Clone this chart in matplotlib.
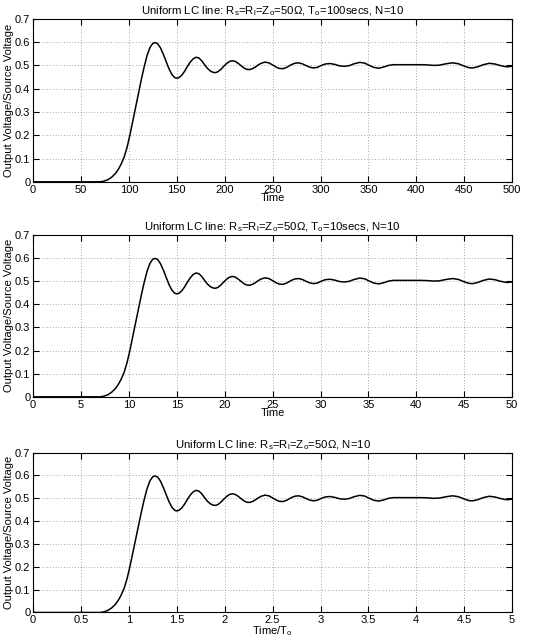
import matplotlib
matplotlib.use("Agg")
from matplotlib import pyplot as plt
from matplotlib.ticker import FormatStrFormatter, MultipleLocator

plt.rcParams['font.family'] = ['Liberation Sans', 'DejaVu Sans']
plt.rcParams['mathtext.fontset'] = 'custom'
plt.rcParams['mathtext.rm'] = 'Liberation Sans'

# normalised time (t / To) and output/source voltage
t_norm = [0.00, 0.50, 0.70, 0.74, 0.78, 0.82, 0.86, 0.89, 0.92, 0.95, 0.98,
          1.01, 1.04, 1.07, 1.10, 1.13, 1.16, 1.19, 1.22, 1.25, 1.275, 1.30,
          1.33, 1.36, 1.39, 1.42, 1.45, 1.48, 1.50, 1.52, 1.55, 1.58, 1.61,
          1.64, 1.67, 1.70, 1.73, 1.76, 1.79, 1.82, 1.85, 1.88, 1.905, 1.93,
          1.96, 1.99, 2.02, 2.05, 2.08, 2.11, 2.14, 2.17, 2.20, 2.23, 2.26,
          2.29, 2.32, 2.35, 2.38, 2.42, 2.46, 2.50, 2.54, 2.57, 2.61, 2.65,
          2.69, 2.73, 2.77, 2.81, 2.85, 2.89, 2.93, 2.97, 3.01, 3.05, 3.10,
          3.15, 3.20, 3.25, 3.30, 3.35, 3.41, 3.46, 3.51, 3.56, 3.61, 3.66,
          3.71, 3.76, 3.85, 3.95, 4.05, 4.12, 4.18, 4.24, 4.31, 4.38, 4.44,
          4.50, 4.55, 4.59, 4.64, 4.70, 4.76, 4.82, 4.88, 4.94, 5.00]
v_ratio = [0.000, 0.000, 0.000, 0.003, 0.009, 0.020, 0.036, 0.054, 0.077,
           0.106, 0.147, 0.200, 0.260, 0.320, 0.380, 0.440, 0.495, 0.543,
           0.577, 0.595, 0.598, 0.593, 0.575, 0.547, 0.515, 0.484, 0.460,
           0.447, 0.445, 0.447, 0.457, 0.474, 0.495, 0.514, 0.528, 0.535,
           0.532, 0.520, 0.503, 0.487, 0.476, 0.470, 0.469, 0.473, 0.483,
           0.496, 0.508, 0.517, 0.520, 0.517, 0.509, 0.499, 0.489, 0.483,
           0.482, 0.486, 0.493, 0.502, 0.509, 0.514, 0.511, 0.502, 0.492,
           0.487, 0.486, 0.492, 0.502, 0.509, 0.511, 0.507, 0.499, 0.492,
           0.489, 0.492, 0.500, 0.506, 0.508, 0.504, 0.498, 0.496, 0.499,
           0.507, 0.513, 0.510, 0.500, 0.491, 0.488, 0.493, 0.500, 0.503,
           0.503, 0.503, 0.503, 0.502, 0.500, 0.501, 0.507, 0.511, 0.507,
           0.497, 0.490, 0.489, 0.494, 0.503, 0.509, 0.506, 0.499, 0.494,
           0.496]

t_scale = [100, 10, 1]
x_steps = [50, 5, 0.5]
x_labels = ['Time', 'Time', r'Time/T$\mathregular{_o}$']
titles = [r'Uniform LC line: R$\mathregular{_s}$=R$\mathregular{_l}$=Z$\mathregular{_o}$=50$\Omega$, T$\mathregular{_o}$=100secs, N=10',
          r'Uniform LC line: R$\mathregular{_s}$=R$\mathregular{_l}$=Z$\mathregular{_o}$=50$\Omega$, T$\mathregular{_o}$=10secs, N=10',
          r'Uniform LC line: R$\mathregular{_s}$=R$\mathregular{_l}$=Z$\mathregular{_o}$=50$\Omega$, N=10']

fig = plt.figure(figsize=(5.34, 6.38), dpi=100)
# axes boxes [left, bottom, width, height]
boxes = [[0.062, 0.715, 0.897, 0.2555],
         [0.062, 0.378, 0.897, 0.254],
         [0.062, 0.040, 0.897, 0.2505]]

for i in range(3):
    ax = fig.add_axes(boxes[i])
    x = [t * t_scale[i] for t in t_norm]
    ax.plot(x, v_ratio, color='black', linewidth=1.1)
    ax.set_xlim(0, 5 * t_scale[i])
    ax.set_ylim(0, 0.7)
    ax.xaxis.set_major_locator(MultipleLocator(x_steps[i]))
    ax.yaxis.set_major_locator(MultipleLocator(0.1))
    ax.xaxis.set_major_formatter(FormatStrFormatter('%g'))
    ax.yaxis.set_major_formatter(FormatStrFormatter('%g'))
    ax.grid(True, color='0.35', linestyle=(0, (1, 3)), linewidth=0.5)
    ax.tick_params(direction='in', top=True, right=True, length=4,
                   width=0.8, labelsize=8, pad=2)
    for s in ax.spines.values():
        s.set_linewidth(0.8)
    ax.set_xlabel(x_labels[i], fontsize=8, labelpad=-1)
    ax.set_ylabel('Output Voltage/Source Voltage', fontsize=8, labelpad=1)
    ax.set_title(titles[i], fontsize=8.2, pad=3)

fig.savefig('out.png', dpi=100)
